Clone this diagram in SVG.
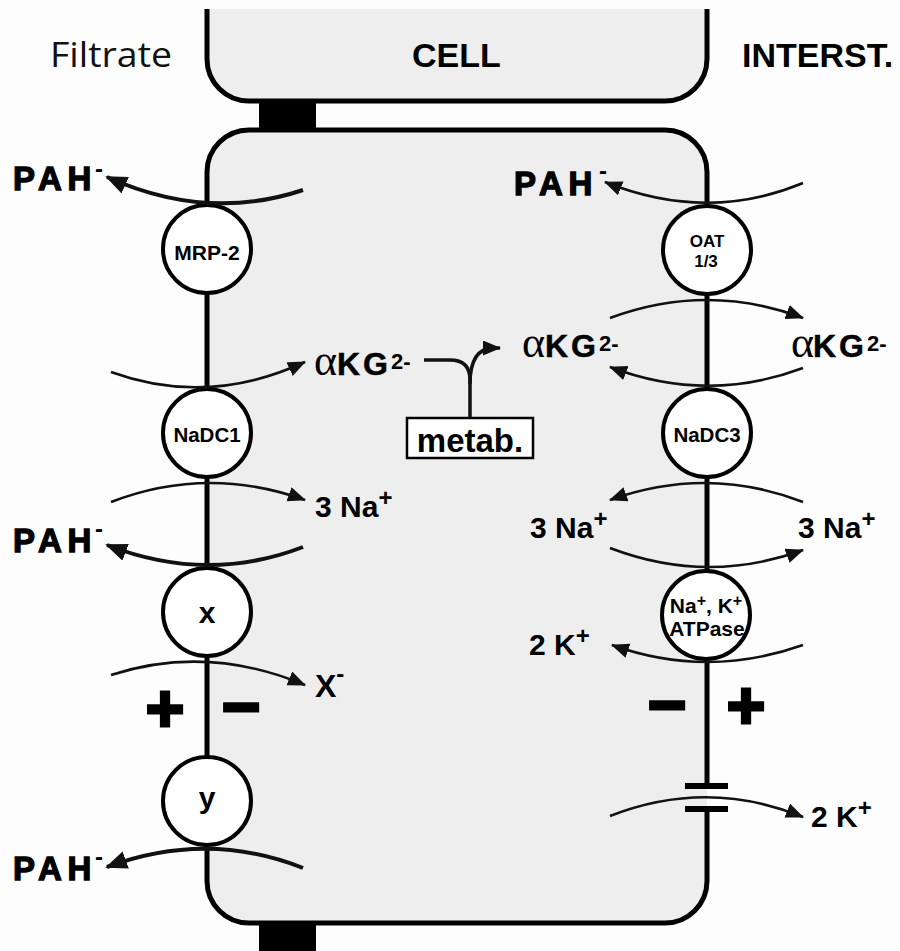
<svg xmlns="http://www.w3.org/2000/svg" width="900" height="951" viewBox="0 0 900 951">
<defs>
<marker id="ah" markerUnits="userSpaceOnUse" markerWidth="22" markerHeight="18" refX="17" refY="7.5" orient="auto"><path d="M0,0 L18,7.5 L0,15 Z" fill="#111"/></marker>
<marker id="ahb" markerUnits="userSpaceOnUse" markerWidth="26" markerHeight="22" refX="20" refY="9" orient="auto"><path d="M0,0 L22,9 L0,18 Z" fill="#111"/></marker>
<style>
.cellfill{fill:#eeeeee}
.mem{fill:none;stroke:#000;stroke-width:5}
.jn{fill:#000}
.tr{fill:#fff;stroke:#000;stroke-width:4}
.arc{fill:none;stroke:#111;stroke-width:2.6;marker-end:url(#ah)}
.pah{fill:none;stroke:#111;stroke-width:4;marker-end:url(#ahb)}
.ln{fill:none;stroke:#111;stroke-width:3.5}
.b{font-family:"Liberation Sans",Arial,sans-serif;font-weight:bold;fill:#000}
.n{font-family:"Liberation Sans",Arial,sans-serif;font-weight:normal;fill:#000}
.g{font-family:"Liberation Serif","Times New Roman",serif;font-weight:normal;fill:#000}
.tl{font-family:"Liberation Sans",Arial,sans-serif;font-weight:bold;fill:#000;text-anchor:middle}
.heavy{stroke:#000;stroke-width:1.3;letter-spacing:5.5px}
.kg{letter-spacing:3px;stroke:#000;stroke-width:0.5}
.sign{font-family:"Liberation Sans",Arial,sans-serif;font-weight:bold;font-size:66px;fill:#000;stroke:#000;stroke-width:3;text-anchor:middle}
</style>
</defs>
<rect width="900" height="951" fill="#fdfdfd"/>

<g id="cell-top">
<path class="cellfill" d="M207,9 L207,59 A42,42 0 0 0 249,101 L665,101 A42,42 0 0 0 707,59 L707,9 Z"/>
<path class="mem" d="M207,9 L207,59 A42,42 0 0 0 249,101 L665,101 A42,42 0 0 0 707,59 L707,9"/>
</g>
<g id="cell-main">
<path class="cellfill" d="M249,130 L665,130 A42,42 0 0 1 707,172 L707,881 A42,42 0 0 1 665,923 L249,923 A42,42 0 0 1 207,881 L207,172 A42,42 0 0 1 249,130 Z"/>
<path class="mem" d="M707,809 L707,881 A42,42 0 0 1 665,923 L249,923 A42,42 0 0 1 207,881 L207,172 A42,42 0 0 1 249,130 L665,130 A42,42 0 0 1 707,172 L707,786"/>
</g>
<g id="junctions">
<rect class="jn" x="259" y="101" width="57" height="29"/>
<rect class="jn" x="259" y="923" width="57" height="28"/>
</g>

<g id="mrp2"><circle class="tr" cx="207" cy="249" r="44"/><text class="tl" x="207" y="260" font-size="21">MRP-2</text></g>
<g id="nadc1"><circle class="tr" cx="207" cy="433" r="44"/><text class="tl" x="207" y="442" font-size="20.5">NaDC1</text></g>
<g id="x"><circle class="tr" cx="207" cy="612" r="44"/><text class="tl" x="207" y="623" font-size="30">x</text></g>
<g id="y"><circle class="tr" cx="207" cy="801" r="44"/><text class="tl" x="207" y="808" font-size="30">y</text></g>
<g id="oat"><circle class="tr" cx="707" cy="250" r="44"/><text class="tl" x="707" y="247" font-size="17">OAT</text><text class="tl" x="706" y="267" font-size="17">1/3</text></g>
<g id="nadc3"><circle class="tr" cx="707" cy="433" r="44"/><text class="tl" x="707" y="442" font-size="20.5">NaDC3</text></g>
<g id="atpase"><circle class="tr" cx="706" cy="615" r="44"/><text class="tl" x="706" y="613" font-size="21">Na<tspan font-size="16" dy="-7">+</tspan><tspan dy="7">, K</tspan><tspan font-size="16" dy="-7">+</tspan></text><text class="tl" x="707" y="636" font-size="21">ATPase</text></g>
<g id="channel">
<rect class="jn" x="685" y="783" width="43" height="6"/>
<rect class="jn" x="685" y="806" width="43" height="6"/>
</g>

<g id="metab"><rect x="407" y="418" width="126" height="40" fill="#fff" stroke="#000" stroke-width="2.5"/><text class="tl" x="470" y="452" font-size="33">metab.</text></g>

<g id="connectors">
<path class="pah" d="M303,190 Q207,222 107,177"/>
<path class="arc" d="M111,372 Q207,407 305,362"/>
<path class="arc" d="M111,502 Q207,465 305,500"/>
<path class="pah" d="M303,547 Q207,584 107,545"/>
<path class="arc" d="M111,675 Q207,644 305,685"/>
<path class="pah" d="M303,868 Q207,830 107,867"/>
<path class="arc" d="M803,183 Q707,223 605,182"/>
<path class="arc" d="M610,318 Q707,282 803,318"/>
<path class="arc" d="M803,368 Q707,404 610,367"/>
<path class="arc" d="M803,502 Q707,465 610,500"/>
<path class="arc" d="M610,548 Q707,585 803,550"/>
<path class="arc" d="M803,645 Q707,679 612,645"/>
<path class="arc" d="M610,816 Q707,778 803,817"/>
<path class="ln" d="M424,360 L450,360 Q470,360 470,380 L470,418"/>
<path class="ln" d="M470,384 Q470,348 494,348 L500,348" marker-end="url(#ah)"/>
</g>

<g id="region-labels">
<text x="50" y="67" font-family="'Open Sans','Liberation Sans',sans-serif" font-size="35" textLength="122" lengthAdjust="spacingAndGlyphs" fill="#111">Filtrate</text>
<text class="b" x="412" y="67" font-size="34">CELL</text>
<text class="b" x="742" y="67" font-size="34">INTERST.</text>
</g>

<g id="pah-labels">
<text class="b" y="190" font-size="33"><tspan class="heavy" x="13">PAH</tspan><tspan x="95" y="177" font-size="24">-</tspan></text>
<text class="b" y="195" font-size="33"><tspan class="heavy" x="514">PAH</tspan><tspan x="599" y="179" font-size="24">-</tspan></text>
<text class="b" y="552" font-size="33"><tspan class="heavy" x="13">PAH</tspan><tspan x="95" y="537" font-size="24">-</tspan></text>
<text class="b" y="880" font-size="33"><tspan class="heavy" x="13">PAH</tspan><tspan x="95" y="865" font-size="24">-</tspan></text>
</g>

<g id="akg-labels">
<text y="375"><tspan class="g" x="314" font-size="44">α</tspan><tspan class="b kg" x="337" font-size="32">KG</tspan><tspan class="b" x="391" y="369" font-size="22">2-</tspan></text>
<text y="357"><tspan class="g" x="522" font-size="44">α</tspan><tspan class="b kg" x="545" font-size="32">KG</tspan><tspan class="b" x="599" y="351" font-size="22">2-</tspan></text>
<text y="357"><tspan class="g" x="791" font-size="44">α</tspan><tspan class="b kg" x="813" font-size="32">KG</tspan><tspan class="b" x="867" y="351" font-size="22">2-</tspan></text>
</g>

<g id="ion-labels">
<text class="b" x="315" y="517" font-size="30">3 Na<tspan font-size="24" dy="-11">+</tspan></text>
<text class="b" x="530" y="538" font-size="30">3 Na<tspan font-size="24" dy="-11">+</tspan></text>
<text class="b" x="798" y="538" font-size="30">3 Na<tspan font-size="24" dy="-11">+</tspan></text>
<text class="b" x="529" y="655" font-size="30">2 K<tspan font-size="24" dy="-11">+</tspan></text>
<text class="b" x="811" y="827" font-size="30">2 K<tspan font-size="24" dy="-11">+</tspan></text>
<text class="b" x="315" y="697" font-size="32">X<tspan font-size="24" dy="-15">-</tspan></text>
</g>

<g id="potential">
<text class="sign" x="165" y="731">+</text>
<text class="sign" x="241" y="729">−</text>
<text class="sign" x="667" y="727">−</text>
<text class="sign" x="746" y="728">+</text>
</g>
</svg>
